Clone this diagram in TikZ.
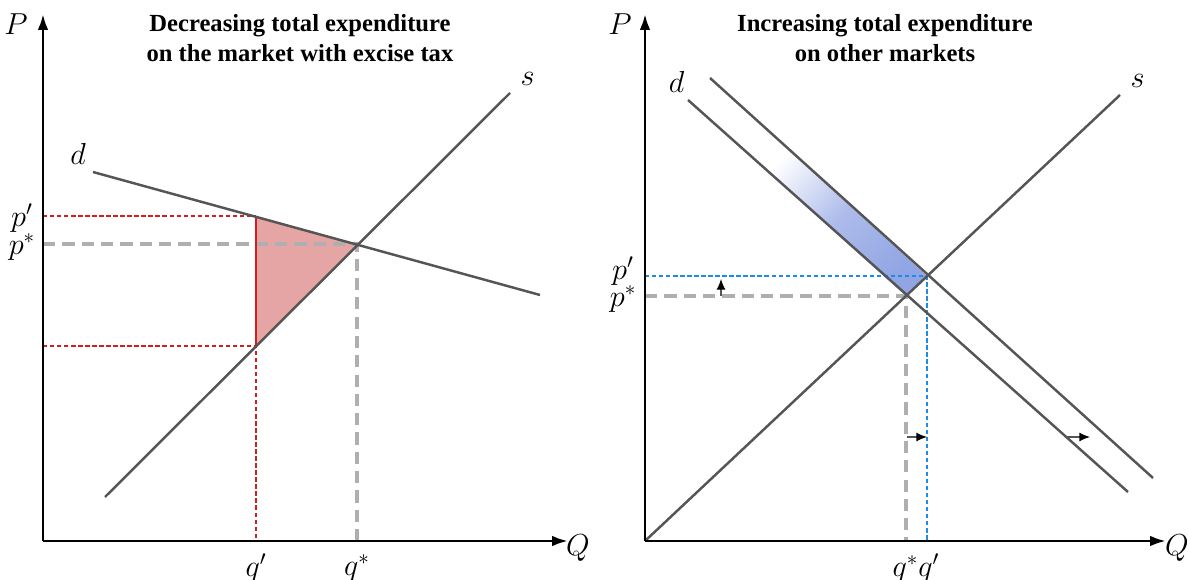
\documentclass[tikz,border=0pt]{standalone}
\usepackage{fontspec}
\setmainfont{Liberation Serif}
\usetikzlibrary{arrows.meta}
\definecolor{curvegray}{RGB}{85,85,85}
\definecolor{dashgray}{RGB}{175,175,175}
\definecolor{taxred}{RGB}{210,30,30}
\definecolor{areared}{RGB}{230,165,165}
\definecolor{shiftblue}{RGB}{30,140,230}
\definecolor{bandblue}{RGB}{145,165,228}
\tikzset{
  axis/.style={line width=1.6pt, -{Latex[length=9pt,width=6pt]}},
  curve/.style={curvegray, line width=1.4pt},
  eqline/.style={dashgray, line width=1.8pt, dash pattern=on 7pt off 4pt},
  redline/.style={taxred, line width=0.8pt, dash pattern=on 2.5pt off 1.5pt},
  blueline/.style={shiftblue, line width=0.8pt, dash pattern=on 2.5pt off 1.5pt},
  shiftarrow/.style={curvegray, line width=0.6pt, -{Latex[black,length=6pt,width=5pt]}},
  lbl/.style={font=\fontsize{17}{17}\selectfont},
  ttl/.style={font=\fontsize{14}{17}\selectfont\bfseries, align=center}
}
\begin{document}
\begin{tikzpicture}[x=0.02cm, y=-0.02cm]
\useasboundingbox (0,0) rectangle (1189,580);
% left: market with excise tax
\coordinate (o1) at (43,541);
\coordinate (e1) at (357,244);
\coordinate (dq) at (256,216);
\coordinate (sq) at (256,346);
\fill[areared] (dq) -- (e1) -- (sq) -- cycle;
\draw[redline] (43,216) -- (dq);
\draw[redline] (43,346) -- (sq) -- (256,541);
\draw[eqline] (43,244) -- (e1) -- (357,541);
\draw[taxred, line width=1.6pt] (dq) -- (sq);
\draw[curve] (105,497) -- (510,93) node[black, lbl, above right, xshift=2pt] {$s$};
\draw[curve] (93,172) node[black, lbl, above left] {$d$} -- (540,295);
\draw[axis] (43,541) -- (43,14);
\draw[axis] (43,541) -- (568,541);
\node[lbl] at (16,24) {$P$};
\node[lbl] at (578,548) {$Q$};
\node[lbl] at (22,218) {$p'$};
\node[lbl] at (22,247) {$p^{*}$};
\node[lbl] at (256,568) {$q'$};
\node[lbl] at (357,568) {$q^{*}$};
\node[ttl] at (300,38) {Decreasing total expenditure\\on the market with excise tax};
% right: other markets
\coordinate (o2) at (645,541);
\coordinate (e2) at (906,296);
\coordinate (e3) at (927,276);
\shade[top color=white, bottom color=bandblue, middle color=bandblue!75, shading angle=48]
  (755,160) -- (e2) -- (e3) -- (775,137) -- cycle;
\draw[eqline] (645,296) -- (e2) -- (906,541);
\draw[blueline] (645,276) -- (e3) -- (927,541);
\draw[curve] (o2) -- (1120,95) node[black, lbl, above right, xshift=2pt] {$s$};
\draw[curve] (688,100) node[black, lbl, above left, xshift=2pt] {$d$} -- (1128,492);
\draw[curve] (710,78) -- (1153,478);
\draw[shiftarrow] (721,296) -- (721,279);
\draw[shiftarrow] (907,437) -- (927,437);
\draw[shiftarrow] (1065,437) -- (1090,437);
\draw[axis] (645,541) -- (645,14);
\draw[axis] (645,541) -- (1166,541);
\node[lbl] at (620,24) {$P$};
\node[lbl] at (1177,548) {$Q$};
\node[lbl] at (623,271) {$p'$};
\node[lbl] at (623,299) {$p^{*}$};
\node[lbl] at (916,568) {$q^{*}q'$};
\node[ttl] at (885,38) {Increasing total expenditure\\on other markets};
\end{tikzpicture}
\end{document}
